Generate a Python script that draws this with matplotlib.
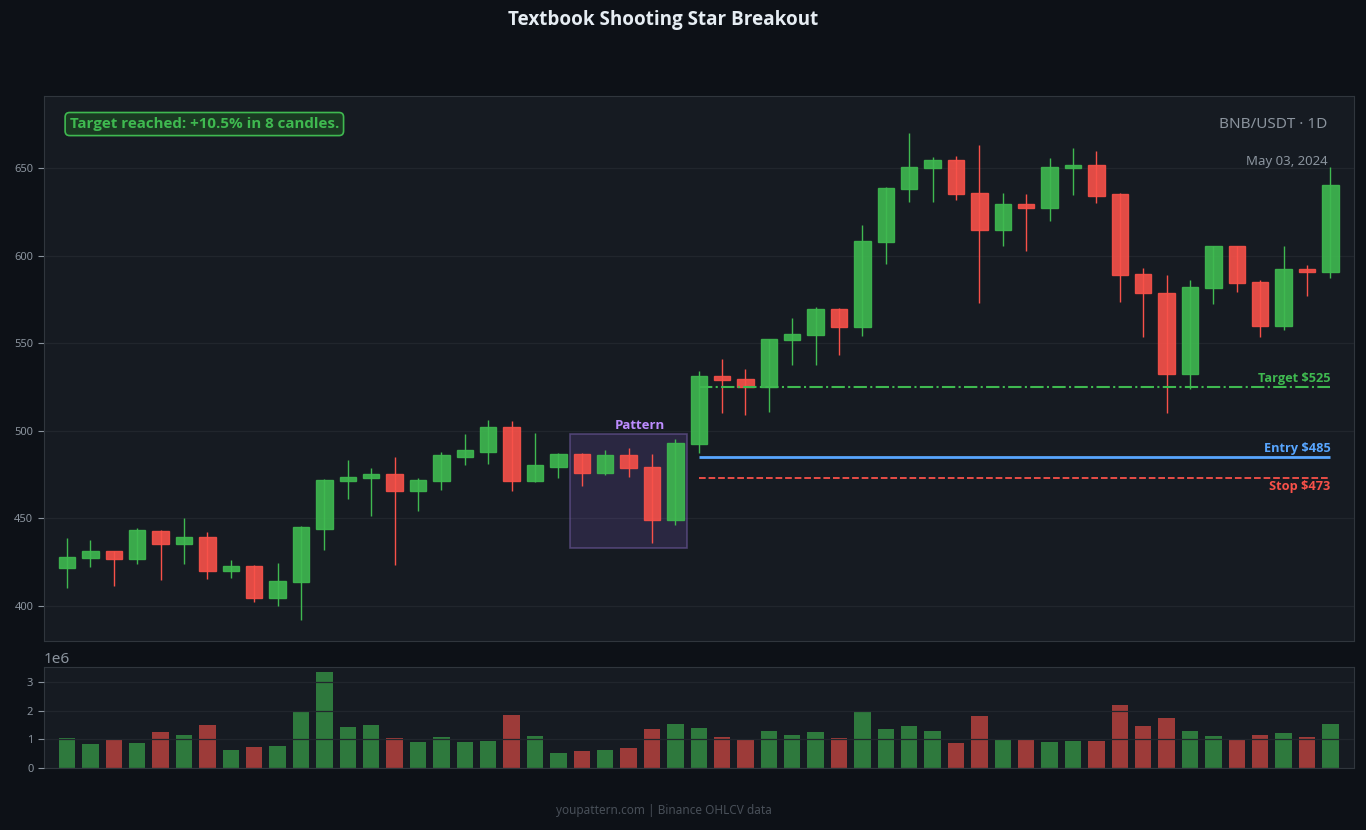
import matplotlib
matplotlib.use('Agg')
import matplotlib.pyplot as plt
from matplotlib.patches import Rectangle
import numpy as np

plt.rcParams['font.family'] = ['Noto Sans', 'DejaVu Sans']
BOLD = ['Open Sans', 'DejaVu Sans']

# BNB/USDT daily candles
opens = [421.5, 427.2, 431.2, 426.7, 442.6, 435.2, 439.2, 419.6, 422.7, 404.2,
         413.5, 444.1, 471.2, 472.7, 475.2, 465.8, 471.0, 485.2, 488.1, 502.0,
         471.0, 479.5, 486.6, 476.1, 486.0, 479.2, 449.1, 492.3, 531.1, 529.4,
         524.8, 551.7, 554.5, 569.4, 559.1, 607.6, 637.8, 649.8, 654.4, 635.6,
         614.4, 629.3, 627.1, 649.9, 651.5, 635.0, 589.7, 578.5, 532.3, 581.3,
         605.3, 584.8, 559.7, 592.2, 590.5]
highs = [438.8, 437.7, 431.5, 444.5, 443.4, 450.2, 442.0, 426.3, 423.0, 424.5,
         445.5, 472.5, 483.3, 478.9, 485.0, 473.1, 487.9, 498.2, 506.2, 505.6,
         498.7, 487.0, 487.0, 489.0, 490.2, 486.8, 495.3, 534.1, 541.0, 535.3,
         552.5, 564.4, 570.5, 570.0, 617.3, 639.0, 670.0, 656.3, 656.8, 663.1,
         635.7, 635.2, 655.7, 661.4, 659.7, 635.6, 592.7, 588.9, 585.9, 605.5,
         605.5, 585.9, 605.5, 594.6, 650.4]
lows = [410.4, 421.9, 411.0, 424.0, 414.8, 423.6, 415.4, 416.0, 401.9, 400.0,
        392.0, 432.0, 461.0, 451.0, 423.0, 454.2, 466.2, 480.5, 481.2, 465.8,
        470.5, 472.7, 468.2, 474.8, 473.8, 435.6, 446.4, 487.5, 510.3, 509.2,
        510.9, 537.6, 537.6, 543.3, 554.3, 595.2, 630.8, 630.8, 631.9, 573.1,
        605.7, 602.8, 619.9, 634.8, 630.2, 573.7, 553.7, 510.3, 524.0, 572.5,
        579.4, 553.7, 557.7, 577.1, 587.4]
closes = [427.8, 431.2, 426.7, 443.2, 435.2, 439.2, 419.6, 422.7, 404.2, 414.1,
          444.9, 471.7, 473.5, 475.2, 465.8, 471.7, 486.0, 488.9, 502.0, 471.0,
          480.3, 486.6, 476.1, 486.0, 478.7, 449.1, 492.9, 531.1, 528.8, 524.8,
          552.2, 555.1, 569.4, 559.1, 608.2, 638.4, 650.4, 654.4, 635.0, 614.4,
          629.3, 627.1, 650.4, 651.5, 633.8, 588.8, 578.5, 532.3, 581.9, 605.3,
          584.2, 559.7, 592.2, 590.5, 640.1]
volumes = [1.05, 0.84, 0.98, 0.875, 1.26, 1.16, 1.51, 0.63, 0.74, 0.77,
           1.96, 3.36, 1.44, 1.51, 1.05, 0.91, 1.09, 0.91, 0.95, 1.86,
           1.12, 0.53, 0.60, 0.63, 0.70, 1.37, 1.54, 1.40, 1.09, 1.02,
           1.30, 1.16, 1.26, 1.05, 2.00, 1.37, 1.47, 1.30, 0.875, 1.82,
           1.02, 1.02, 0.91, 0.95, 0.95, 2.21, 1.47, 1.75, 1.30, 1.12,
           0.98, 1.16, 1.23, 1.09, 1.54]
volumes = [v * 1e6 for v in volumes]

pattern_start, pattern_end = 22, 26
entry, stop, target = 485, 473, 525
entry_idx = 27

BG = '#0d1117'
PANEL = '#161b22'
GRID = '#21262d'
SPINE = '#30363d'
TXT = '#8b949e'
UP = '#3fb950'
DOWN = '#f85149'

fig = plt.figure(figsize=(13.66, 8.3), dpi=100, facecolor=BG)
ax = fig.add_axes([0.032, 0.228, 0.959, 0.656])
axv = fig.add_axes([0.032, 0.075, 0.959, 0.121])

n = len(opens)
x = np.arange(n)
for a in (ax, axv):
    a.set_facecolor(PANEL)
    for s in a.spines.values():
        s.set_color(SPINE)
    a.tick_params(colors=TXT, labelsize=8, length=4)
    a.set_xticks([])
    a.grid(True, axis='y', color=GRID, lw=0.9)
    a.set_xlim(-1, n)

ax.set_axisbelow(True)

# candles
w = 0.7
for i in range(n):
    o, h, l, c = opens[i], highs[i], lows[i], closes[i]
    col = UP if c >= o else DOWN
    ax.vlines(i, l, h, color=col, lw=1, zorder=2)
    ax.add_patch(Rectangle((i - w / 2, min(o, c)), w, max(abs(c - o), 0.6),
                           facecolor=col, edgecolor=col, alpha=0.9, lw=1, zorder=3))
ax.set_ylim(380, 691)
ax.set_yticks([400, 450, 500, 550, 600, 650])

# pattern box
pl = min(lows[pattern_start:pattern_end + 1]) - 2.5
ph = max(highs[pattern_start:pattern_end + 1]) + 2.9
ax.add_patch(Rectangle((pattern_start - 0.5, pl), pattern_end - pattern_start + 1, ph - pl,
                       facecolor='#a371f7', alpha=0.15, edgecolor='none', zorder=1))
ax.add_patch(Rectangle((pattern_start - 0.5, pl), pattern_end - pattern_start + 1, ph - pl,
                       facecolor='none', edgecolor='#6e5a9e', alpha=0.6, lw=1.2, zorder=1))
ax.text(24.5, ph + 1.2, 'Pattern', color='#bc8cff', fontsize=9.5, fontweight='bold',
        family=BOLD, ha='center', va='bottom')

# trade levels
ax.hlines(target, entry_idx, n - 1, color=UP, lw=1.5, ls='-.', zorder=4)
ax.hlines(entry, entry_idx, n - 1, color='#58a6ff', lw=2, zorder=4)
ax.hlines(stop, entry_idx, n - 1, color=DOWN, lw=1.3, ls='--', zorder=4)
ax.text(n - 1, target + 1, f'Target ${target}', color=UP, fontsize=9.2,
        fontweight='bold', family=BOLD, ha='right', va='bottom')
ax.text(n - 1, entry + 1, f'Entry ${entry}', color='#58a6ff', fontsize=9.2,
        fontweight='bold', family=BOLD, ha='right', va='bottom')
ax.text(n - 1, stop - 1, f'Stop ${stop}', color=DOWN, fontsize=9.2,
        fontweight='bold', family=BOLD, ha='right', va='top')

ax.text(0.0198, 0.949, 'Target reached: +10.5% in 8 candles.', transform=ax.transAxes,
        color=UP, fontsize=10.9, fontweight='bold', family=BOLD, ha='left', va='center',
        bbox=dict(boxstyle='round,pad=0.3', facecolor='#1a3a22', edgecolor=UP, lw=1.2))
ax.text(0.98, 0.949, 'BNB/USDT · 1D', transform=ax.transAxes, color=TXT,
        fontsize=11, ha='right', va='center')
ax.text(0.98, 0.881, 'May 03, 2024', transform=ax.transAxes, color=TXT,
        fontsize=9.5, ha='right', va='center')

# volume
vcols = [UP if closes[i] >= opens[i] else DOWN for i in range(n)]
axv.bar(x, volumes, width=0.7, color=vcols, alpha=0.6, zorder=1)
axv.set_axisbelow(False)
axv.set_ylim(0, max(volumes) * 1.05)
axv.set_yticks([0, 1e6, 2e6, 3e6])
axv.yaxis.get_offset_text().set_color(TXT)
axv.yaxis.get_offset_text().set_fontsize(11)

fig.text(0.4857, 0.976, 'Textbook Shooting Star Breakout', color='#e6edf3',
         fontsize=13.6, fontweight='bold', family=BOLD, ha='center', va='center')
fig.text(0.4857, 0.023, 'youpattern.com | Binance OHLCV data', color='#484f58',
         fontsize=8.5, ha='center', va='center')

fig.savefig('out.png', dpi=100, facecolor=BG)
